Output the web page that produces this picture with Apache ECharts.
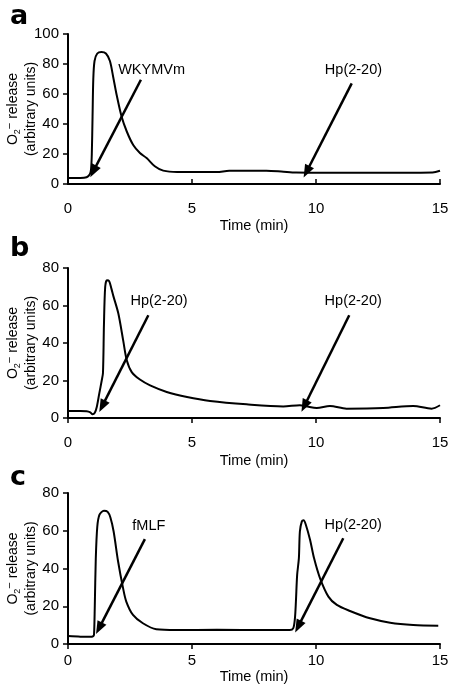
<!DOCTYPE html>
<html>
<head>
<meta charset="utf-8">
<script src="https://cdn.jsdelivr.net/npm/echarts@6/dist/echarts.min.js"></script>
<style>html,body{margin:0;padding:0;background:#fff}#c{width:452px;height:696px}</style>
</head>
<body>
<div id="c"></div>
<script>
// ---- data ----
const timeA = [0,0.5,0.75,0.88,0.93,0.96,0.99,1.02,1.07,1.18,1.35,1.53,1.69,1.83,1.96,2.16,2.37,2.63,2.9,3.17,3.5,3.84,4.4,5,6,6.5,8,8.6,9.2,10,12,14,14.7,15];
const o2A   = [4,4,4.5,6.5,10,20,45,70,82,87,88,87,82,70.7,59.5,45,35,26,20.7,17.3,11.8,8.9,8,8,8,8.8,8.8,8.3,7.6,7.5,7.5,7.5,7.6,8.8];

const timeB = [0,0.5,0.75,0.9,0.99,1.08,1.16,1.26,1.36,1.41,1.45,1.5,1.57,1.66,1.75,1.83,2.03,2.23,2.37,2.57,2.9,3.31,3.98,4.8,5.73,7.2,8.68,9.35,9.6,10.03,10.56,11.23,12.71,13.92,14.66,15];
const o2B   = [3.7,3.7,3.6,3,2,2.8,5.9,13,20,24,50,70,73.5,73,69,65,55.7,41,30.8,24.5,20.5,17.4,13.9,11.2,9.1,7.3,6.2,6.8,6.3,5.3,6.4,5.0,5.3,6.4,5.0,6.8];

const timeC = [0,0.5,0.9,1.02,1.05,1.08,1.12,1.18,1.27,1.45,1.6,1.71,1.84,2.02,2.22,2.35,2.62,3.02,3.56,4.37,6,8,8.94,9.08,9.15,9.19,9.24,9.31,9.35,9.43,9.5,9.59,9.76,9.92,10.16,10.5,10.84,11.37,12.18,12.99,13.92,14.93];
const o2C   = [4.2,3.9,3.8,4.2,5,20,45,62,68.5,70.6,70,67,59.6,43.7,29.6,22.5,15.4,11,7.8,7.4,7.5,7.4,7.4,8.3,13.6,22.5,36.6,45.5,59.6,65,65.5,63.2,55.2,45.5,34.9,25.1,20.7,17.5,13.6,11.3,10.1,9.7];

const xTicks = [0,5,10,15];
const yMaxA = 100, yMaxB = 80, yMaxC = 80;

// annotation arrows: [fromX, fromY, toX, toY]
const arrowsA = [[2.94,69.5,1.02,8.4],[11.44,67.1,9.62,8.2]];
const arrowsB = [[3.24,54.8,1.38,6.3],[11.34,54.8,9.53,6.4]];
const arrowsC = [[3.1,55.6,1.25,8.3],[11.1,56,9.28,9.2]];
// annotation labels: [x, y, text]
const labelsA = [[3.37,76,'WKYMVm'],[11.51,76,'Hp(2-20)']];
const labelsB = [[3.67,62.2,'Hp(2-20)'],[11.5,62.4,'Hp(2-20)']];
const labelsC = [[3.26,62.3,'fMLF'],[11.5,63,'Hp(2-20)']];

// ---- chart ----
const FONT = 'Liberation Sans, Arial, Helvetica, sans-serif';
const zip = (a,b) => a.map((v,i)=>[v,b[i]]);

const grids = [
  {left:68, right:12, top:34, height:150, containLabel:false, outerBoundsMode:'none'},
  {left:68, right:12, top:268, height:150, containLabel:false, outerBoundsMode:'none'},
  {left:68, right:12, top:493, height:151, containLabel:false, outerBoundsMode:'none'}
];
const xCfg = [
  {tickInside:true, labelMargin:17, nameGap:34},
  {tickInside:false, labelMargin:17, nameGap:35},
  {tickInside:false, labelMargin:9, nameGap:25}
];
const yMax = [yMaxA, yMaxB, yMaxC];

const yName = '{t|O}{sub|2}{sup|\u2212}{t| release}\n{t|(arbitrary units)}';

const xAxis = grids.map((g,i)=>({
  type:'value', gridIndex:i, min:0, max:15, interval:5,
  name:'Time (min)', nameLocation:'middle', nameGap:xCfg[i].nameGap, nameMoveOverlap:false,
  nameTextStyle:{fontFamily:FONT, fontSize:14.5, color:'#000'},
  axisLine:{lineStyle:{color:'#000', width:2}},
  axisTick:{show:true, inside:xCfg[i].tickInside, length:5, lineStyle:{color:'#000', width:1.5}},
  axisLabel:{fontFamily:FONT, fontSize:15, color:'#000', margin:xCfg[i].labelMargin,
    formatter:(v)=> xTicks.includes(v) ? String(v) : ''},
  splitLine:{show:false}
}));
const yAxis = grids.map((g,i)=>({
  type:'value', gridIndex:i, min:0, max:yMax[i], interval:20,
  name:yName, nameLocation:'middle', nameRotate:90, nameGap:28, nameMoveOverlap:false,
  nameTextStyle:{fontFamily:FONT, color:'#000', align:'center',
    rich:{
      t:{fontFamily:FONT, fontSize:14, color:'#000', lineHeight:18},
      sub:{fontFamily:FONT, fontSize:9, color:'#000', verticalAlign:'bottom', lineHeight:10},
      sup:{fontFamily:FONT, fontSize:11, color:'#000', verticalAlign:'top', lineHeight:11}
    }},
  axisLine:{show:true, lineStyle:{color:'#000', width:2}},
  axisTick:{show:true, inside:false, length:5, lineStyle:{color:'#000', width:1.5}},
  axisLabel:{fontFamily:FONT, fontSize:15, color:'#000', margin:9},
  splitLine:{show:false}
}));

const dataSets = [zip(timeA,o2A), zip(timeB,o2B), zip(timeC,o2C)];
const arrows = [arrowsA, arrowsB, arrowsC];
const labels = [labelsA, labelsB, labelsC];

const series = dataSets.map((d,i)=>({
  type:'line', xAxisIndex:i, yAxisIndex:i, data:d,
  showSymbol:false, smooth:0.3,
  lineStyle:{color:'#000', width:2}, itemStyle:{color:'#000'},
  animation:false, silent:true,
  markLine:{
    silent:true, animation:false,
    symbol:['none','triangle'], symbolSize:[10,13],
    lineStyle:{color:'#000', width:2.5, type:'solid'},
    label:{show:false},
    data: arrows[i].map(a=>[{coord:[a[0],a[1]]},{coord:[a[2],a[3]]}])
  },
  markPoint:{
    silent:true, animation:false,
    symbol:'circle', symbolSize:1, itemStyle:{color:'rgba(0,0,0,0)'},
    label:{show:true, position:'inside', color:'#000', fontFamily:FONT, fontSize:14.5,
      formatter:(p)=>p.name},
    data: labels[i].map(l=>({coord:[l[0],l[1]], name:l[2], value:l[2]}))
  }
}));

const chart = echarts.init(document.getElementById('c'), null, {renderer:'canvas'});
chart.setOption({
  backgroundColor:'#fff',
  animation:false,
  title:[
    {text:'a', left:5, top:-2, textStyle:{fontFamily:'DejaVu Sans', fontWeight:'bold', fontSize:27, color:'#000'}},
    {text:'b', left:5, top:230, textStyle:{fontFamily:'DejaVu Sans', fontWeight:'bold', fontSize:27, color:'#000'}},
    {text:'c', left:5, top:459, textStyle:{fontFamily:'DejaVu Sans', fontWeight:'bold', fontSize:27, color:'#000'}}
  ],
  grid:grids,
  xAxis:xAxis,
  yAxis:yAxis,
  series:series
});
</script>
</body>
</html>
